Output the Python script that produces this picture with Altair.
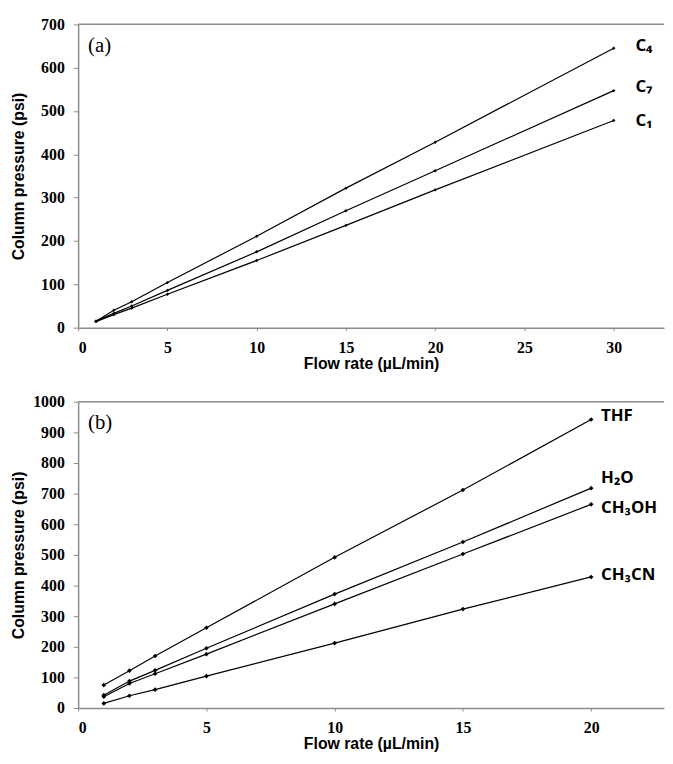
import altair as alt
import pandas as pd

# ---- Panel (a) data ----
flow_a = [1, 2, 3, 5, 10, 15, 20, 30]
c4 = [15, 40, 60, 104, 211, 322, 428, 645]
c7 = [15, 33, 50, 86, 175, 270, 362, 547]
c1 = [14, 30, 45, 77, 155, 236, 318, 478]
series_a = {"C₄": c4, "C₇": c7, "C₁": c1}

# ---- Panel (b) data ----
flow_b = [1, 2, 3, 5, 10, 15, 20]
thf = [75, 122, 170, 262, 492, 712, 942]
h2o = [42, 88, 123, 195, 372, 542, 718]
ch3oh = [37, 80, 112, 176, 340, 503, 665]
ch3cn = [15, 40, 60, 104, 212, 323, 428]
series_b = {"THF": thf, "H₂O": h2o, "CH₃OH": ch3oh, "CH₃CN": ch3cn}

xticks_a = [0, 5, 10, 15, 20, 25, 30]
yticks_a = [0, 100, 200, 300, 400, 500, 600, 700]
xticks_b = [0, 5, 10, 15, 20]
yticks_b = [0, 100, 200, 300, 400, 500, 600, 700, 800, 900, 1000]

# label offsets (style only)
label_style_a = {"C₄": (22, -2), "C₇": (22, -4), "C₁": (22, 1)}
label_style_b = {"THF": (10, -3), "H₂O": (10, -10), "CH₃OH": (10, 4), "CH₃CN": (10, -2)}

GREY = "#8c8c8c"


def make_df(flow, series):
    rows = []
    for name, vals in series.items():
        for f, v in zip(flow, vals):
            rows.append({"series": name, "flow": f, "pressure": v})
    return pd.DataFrame(rows)


def panel(flow, series, xmax, xticks, ymax, yticks, w, h, tag, label_style, msize):
    df = make_df(flow, series)
    x = alt.X("flow:Q", scale=alt.Scale(domain=[0, xmax], nice=False, zero=False),
              axis=alt.Axis(values=xticks, format="d", title="Flow rate (µL/min)",
                            tickSize=3, labelPadding=9, titlePadding=0))
    y = alt.Y("pressure:Q", scale=alt.Scale(domain=[0, ymax], nice=False),
              axis=alt.Axis(values=yticks, format="d", title="Column pressure (psi)",
                            tickSize=5, labelPadding=9, titleX=-52, titleY=h / 2))
    base = alt.Chart(df)
    lines = base.mark_line(color="black", strokeWidth=1.2).encode(x=x, y=y, detail="series:N")
    pts = base.mark_point(shape="diamond", filled=True, color="black", size=msize, opacity=1).encode(
        x=x, y=y, detail="series:N")
    top = alt.Chart(pd.DataFrame({"a": [0]})).mark_rule(color=GREY, strokeWidth=1.5).encode(
        x=alt.value(0), x2=alt.value(w), y=alt.value(0))
    tag_t = alt.Chart(pd.DataFrame({"a": [0]})).mark_text(
        text=tag, font="Liberation Serif", fontSize=21, align="left", baseline="middle", color="black"
    ).encode(x=alt.value(10), y=alt.value(22))
    layers = [top, lines, pts, tag_t]
    for name, vals in series.items():
        dx, dy = label_style[name]
        ldf = pd.DataFrame({"flow": [flow[-1]], "pressure": [vals[-1]], "label": [name]})
        layers.append(alt.Chart(ldf).mark_text(
            font="Open Sans", fontWeight="bold", fontSize=17, align="left", baseline="middle",
            dx=dx, dy=dy, color="black").encode(x=x, y=y, text="label:N"))
    return alt.layer(*layers).properties(width=w, height=h)


pa = panel(flow_a, series_a, 32.82, xticks_a, 700, yticks_a, 593, 307, "(a)", label_style_a, 12)
pb = panel(flow_b, series_b, 22.84, xticks_b, 1000, yticks_b, 593, 310, "(b)", label_style_b, 22)

chart = alt.vconcat(pa, pb, spacing=23).properties(
    padding={"left": 3, "top": 4, "right": 0, "bottom": 0}
).configure_view(stroke=None).configure_axis(
    grid=False,
    domainColor=GREY,
    domainWidth=1.5,
    tickColor=GREY,
    labelFont="Liberation Serif",
    labelFontWeight="bold",
    labelFontSize=16,
    labelColor="black",
    titleFont="Liberation Sans",
    titleFontWeight="bold",
    titleFontSize=16,
    titleColor="black",
)

chart.save("out.html", embed_options={"renderer": "svg", "actions": False})
